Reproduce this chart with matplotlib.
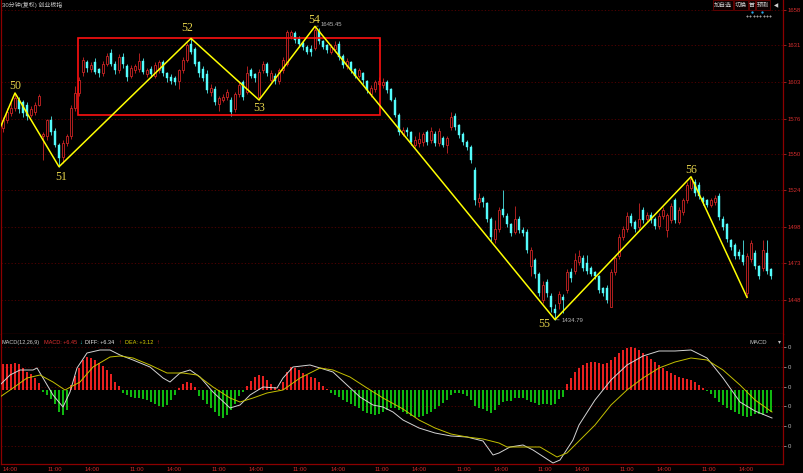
import numpy as np
import matplotlib
matplotlib.use("Agg")
import matplotlib.pyplot as plt
from matplotlib.patches import Rectangle
from matplotlib.ticker import NullLocator, NullFormatter

plt.rcParams['font.family'] = ['Liberation Sans', 'Noto Sans CJK SC', 'DejaVu Sans']

# 30-minute candles (one per bar, left to right)
OPEN = [1569, 1575, 1580, 1584, 1590, 1588, 1586, 1579, 1581, 1586,
        1563, 1563, 1575, 1567, 1557, 1548, 1558, 1563, 1584, 1595,
        1611, 1618, 1613, 1618, 1613, 1610, 1617, 1625, 1617, 1612,
        1622, 1615, 1608, 1612, 1613, 1619, 1609, 1613, 1608, 1612,
        1618, 1610, 1607, 1606, 1604, 1612, 1620, 1632, 1628, 1618,
        1613, 1609, 1596, 1598, 1587, 1590, 1592, 1590, 1583, 1594,
        1603, 1596, 1612, 1609, 1592, 1612, 1617, 1605, 1608, 1604,
        1612, 1617, 1638, 1640, 1636, 1633, 1630, 1628, 1629, 1642,
        1634, 1631, 1626, 1628, 1632, 1623, 1615, 1618, 1613, 1608,
        1610, 1604, 1594, 1598, 1602, 1601, 1603, 1598, 1590, 1579,
        1565, 1568, 1566, 1557, 1558, 1559, 1566, 1560, 1565, 1558,
        1562, 1557, 1570, 1578, 1571, 1565, 1559, 1555, 1539, 1516,
        1519, 1515, 1504, 1490, 1497, 1511, 1506, 1500, 1495, 1504,
        1496, 1495, 1471, 1475, 1466, 1448, 1460, 1451, 1442, 1446,
        1450, 1455, 1467, 1468, 1474, 1477, 1473, 1470, 1467, 1464,
        1456, 1456, 1443, 1467, 1478, 1491, 1497, 1506, 1502, 1498,
        1510, 1504, 1507, 1504, 1499, 1506, 1496, 1503, 1517, 1502,
        1509, 1517, 1526, 1530, 1528, 1519, 1517, 1514, 1516, 1520,
        1504, 1500, 1489, 1486, 1481, 1479, 1453, 1476, 1480, 1471,
        1470, 1480, 1469]
HIGH = [1577, 1584, 1588, 1595, 1592, 1590, 1588, 1585, 1588, 1594,
        1566, 1576, 1578, 1569, 1558, 1560, 1565, 1586, 1600, 1607,
        1622, 1620, 1618, 1621, 1614, 1619, 1625, 1628, 1619, 1624,
        1625, 1617, 1616, 1617, 1625, 1621, 1614, 1615, 1618, 1620,
        1620, 1611, 1609, 1608, 1613, 1622, 1633, 1636.2, 1630, 1619,
        1615, 1612, 1602, 1600, 1593, 1594, 1598, 1592, 1596, 1604,
        1605, 1615, 1614, 1610, 1613, 1619, 1618, 1612, 1610, 1614,
        1622, 1643, 1643, 1642, 1638, 1634, 1631, 1631, 1645.45, 1644,
        1635, 1632, 1632, 1634, 1634, 1624, 1621, 1619, 1614, 1614,
        1611, 1605, 1601, 1605, 1607, 1606, 1605, 1599, 1592, 1580,
        1570, 1570, 1567, 1563, 1566, 1566, 1568, 1570, 1567, 1569,
        1563, 1563, 1581, 1580, 1572, 1566, 1560, 1557, 1541, 1522,
        1520, 1516, 1505, 1503, 1512, 1524, 1508, 1501, 1513, 1506,
        1498, 1497, 1484, 1477, 1467, 1461, 1462, 1453, 1445, 1454,
        1452, 1469, 1470, 1480, 1482, 1479, 1479, 1471, 1468, 1465,
        1457, 1458, 1469, 1478, 1493, 1499, 1509, 1508, 1503, 1515,
        1512, 1509, 1509, 1505, 1508, 1512, 1508, 1515, 1519, 1512,
        1519, 1530, 1533.8, 1532, 1530, 1520, 1518, 1519, 1521, 1522,
        1506, 1501, 1490, 1487, 1483, 1489, 1480, 1489, 1482, 1472,
        1489, 1489, 1470]
LOW = [1566, 1573, 1578, 1582, 1580, 1577, 1575, 1577, 1579, 1585,
       1546, 1560, 1564, 1555, 1541, 1544, 1556, 1561, 1582, 1593,
       1608, 1611, 1611, 1609, 1607, 1608, 1615, 1615, 1609, 1610,
       1614, 1604, 1606, 1610, 1611, 1609, 1607, 1607, 1606, 1610,
       1608, 1603, 1602, 1601, 1598, 1610, 1618, 1624, 1615, 1607,
       1604, 1595, 1593, 1586, 1582, 1588, 1590, 1578, 1581, 1592,
       1590, 1594, 1606, 1603, 1589.8, 1610, 1608, 1603, 1602, 1602,
       1610, 1615, 1636, 1633, 1630, 1627, 1624, 1623, 1627, 1632,
       1628, 1625, 1624, 1626, 1620, 1614, 1613, 1610, 1606, 1606,
       1602, 1595, 1592, 1596, 1600, 1599, 1595, 1589, 1577, 1564,
       1563, 1563, 1557, 1555, 1555, 1556, 1557, 1558, 1556, 1556,
       1555, 1551, 1568, 1568, 1562, 1557, 1553, 1544, 1514, 1512,
       1512, 1502, 1488, 1487, 1495, 1505, 1498, 1492, 1493, 1494,
       1492, 1480, 1464, 1463, 1451, 1446, 1450, 1440, 1434.79, 1442,
       1439, 1453, 1460, 1466, 1472, 1468, 1466, 1464, 1462, 1453,
       1451, 1446, 1443, 1465, 1476, 1489, 1495, 1499, 1495, 1496,
       1501, 1502, 1501, 1497, 1497, 1504, 1491, 1501, 1501, 1500,
       1507, 1515, 1524, 1520, 1518, 1514, 1512, 1512, 1514, 1503,
       1496, 1488, 1482, 1476, 1476, 1472, 1449.8, 1474, 1469, 1462,
       1468, 1466, 1462]
CLOSE = [1575, 1581, 1584, 1591, 1583, 1580, 1578, 1583, 1586, 1593,
         1565, 1575, 1566, 1557, 1547, 1558, 1563, 1584, 1595, 1605,
         1620, 1614, 1616, 1611, 1610, 1617, 1623, 1617, 1612, 1622,
         1617, 1607, 1614, 1615, 1619, 1611, 1612, 1609, 1616, 1618,
         1610, 1606, 1604, 1603, 1612, 1620, 1631, 1626, 1617, 1610,
         1606, 1597, 1599, 1588, 1591, 1592, 1596, 1581, 1594, 1601,
         1592, 1610, 1608, 1606, 1611, 1617, 1610, 1610, 1604, 1612,
         1620, 1641, 1641, 1635, 1632, 1630, 1626, 1626, 1643, 1634,
         1630, 1627, 1630, 1631, 1622, 1616, 1619, 1612, 1608, 1612,
         1605, 1597, 1599, 1603, 1604, 1603, 1597, 1590, 1579, 1566,
         1568, 1566, 1559, 1560, 1561, 1565, 1559, 1567, 1558, 1567,
         1557, 1562, 1577, 1570, 1564, 1559, 1555, 1546, 1517, 1519,
         1516, 1504, 1491, 1497, 1510, 1507, 1500, 1494, 1504, 1496,
         1494, 1482, 1482, 1466, 1453, 1458, 1453, 1443, 1439, 1452,
         1448, 1467, 1463, 1475, 1478, 1470, 1468, 1466, 1464, 1455,
         1453, 1448, 1467, 1477, 1491, 1497, 1506, 1501, 1497, 1504,
         1503, 1507, 1503, 1499, 1506, 1510, 1507, 1513, 1503, 1510,
         1517, 1528, 1532, 1522, 1520, 1516, 1514, 1517, 1519, 1505,
         1498, 1490, 1484, 1478, 1478, 1474, 1478, 1487, 1471, 1464,
         1482, 1468, 1464]

# wave-count zigzag (bar index, price); first point is where the line enters
ZZ_X = [-0.75, 3, 14, 47, 64, 78, 138, 172, 186]
ZZ_P = [1569, 1595, 1541, 1636.2, 1589.8, 1645.45, 1434.79, 1533.8, 1449.8]
ZZ_LABELS = ["50", "51", "52", "53", "54", "55", "56"]

# consolidation box
BOX_X = [18.75, 94.25]
BOX_P = [1578.7, 1636.5]

PRICE_TICKS = [1448, 1473, 1498, 1524, 1550, 1576, 1603, 1631, 1658]

# MACD histogram, one value per bar
HIST = [26, 26, 26, 27, 26, 22, 18, 16, 12, 7,
        -2, -5, -9, -14, -22, -25, -20,
        5, 14, 22, 30, 33, 32, 30, 27, 24, 20, 16, 8, 4,
        -3, -5, -7, -8, -8, -9, -10, -12, -14, -16, -17, -15, -10, -5,
        2, 6, 8, 7, 3,
        -6, -10, -14, -18, -22, -26, -28, -25, -20, -14, -6, -2,
        4, 9, 13, 15, 14, 10, 6, 3, 1,
        8, 18, 23, 22, 20, 17, 15, 13, 12, 8, 4, 1,
        -3, -5, -7, -10, -12, -14, -16, -18, -21, -23,
        -24, -25, -24, -22, -20, -18, -18, -20,
        -22, -24, -26, -27, -27, -26, -24, -22, -19, -16,
        -13, -10, -5, -3, -3, -4, -6, -10, -16, -18,
        -19, -21, -23, -20, -15, -12, -11, -11, -8, -8,
        -8, -10, -12, -13, -15, -14, -14, -15, -14, -9, -7,
        6, 12, 18, 22, 25, 27, 28, 28, 27, 26,
        27, 30, 33, 37, 40, 42, 43, 42, 40, 37,
        34, 31, 28, 25, 22, 19, 17, 15, 13, 12,
        11, 10, 8, 5, 2, -1, -4, -8, -12, -15,
        -18, -20, -22, -24, -26, -27, -26, -24, -24, -25,
        -23, -22]

DIFF_X = [-0.75, 1.75, 4.25, 7.5, 8.5, 10, 12.5, 15, 16.75, 18.5,
          21, 24.25, 26.75, 29.25, 32.5, 36.75, 40, 41.75, 44.25, 46.75,
          49.25, 52.5, 56.75, 59.25, 61.75, 65, 68.5, 70, 72.5, 76.75,
          79.25, 82.5, 86, 89.25, 92.5, 95, 97.5, 100, 104, 108,
          112, 116, 120, 122.5, 124, 126.75, 130, 132.5, 137.5, 139.25,
          142.5, 144, 148, 152, 156, 160, 164, 168, 172, 176,
          180, 184.25, 188, 192.25]
DIFF = [5, 15, 20, 20, 22, 12, -5, -17, -2, 22,
        37, 40, 40, 35, 30, 23, 12, 8, 17, 20,
        13, -2, -18, -15, -5, 3, 2, 12, 23, 25,
        22, 18, 5, -7, -15, -17, -22, -30, -38, -43,
        -46, -47, -51, -65, -63, -57, -55, -60, -73, -70,
        -50, -35, -10, 10, 25, 34, 39, 39, 40, 32,
        12, -12, -21, -28]
DEA_X = [-0.75, 2.5, 6, 9.25, 12.5, 15.5, 19.25, 22.5, 26.75, 29.25,
         32.5, 36.75, 41, 45, 48.5, 52.5, 56.75, 59.25, 62.5, 66,
         70, 74.25, 79.25, 82.5, 86.75, 91, 95, 100, 104, 108,
         112, 116, 120, 124, 126, 134.25, 138.5, 141, 144.25, 148,
         152, 156, 160, 164, 168, 172, 176, 180, 184.25, 188,
         192.25]
DEA = [-7, 2, 12, 15, 8, 0, 8, 23, 33, 34,
       32, 25, 17, 17, 15, 3, -8, -12, -8, -3,
       0, 12, 22, 20, 13, 2, -8, -19, -30, -38,
       -44, -47, -49, -53, -57, -57, -67, -63, -50, -35,
       -15, 0, 12, 22, 28, 32, 30, 20, 5, -10,
       -22]
MACD_TICKS = [43, 23, 3, -16, -36, -56]

TIME_POS = [1.75, 13, 22.4, 33.4, 42.8, 54, 63.25, 74.25, 83.7, 94.7,
            104.1, 115.1, 124.5, 135.5, 144.9, 155.9, 165.3, 176.5, 185.9]
TIME_LBL = ["14:00", "11:00"] * 9 + ["14:00"]

# colours
UP = "#e02828"
DOWN = "#54fcfc"
AXIS_RED = "#8c0000"
GRID_RED = "#5a0000"
LABEL_RED = "#d02c2c"
ZZ_YELLOW = "#ffff00"
NUM_YELLOW = "#e4d24a"

W, H = 804, 473
fig = plt.figure(figsize=(W / 100, H / 100), dpi=100, facecolor="black")


def box(x0, y0, x1, y1):
    return [x0 / W, 1 - y1 / H, (x1 - x0) / W, (y1 - y0) / H]


ax = fig.add_axes(box(0.5, 0, 783, 334))
mx = fig.add_axes(box(0.5, 334, 783, 464))
XLIM = (-0.625, 195)

for a in (ax, mx):
    a.set_facecolor("black")
    for s in a.spines.values():
        s.set_color(AXIS_RED)
        s.set_linewidth(0.9)
    a.spines["top"].set_visible(False)
    a.set_xlim(*XLIM)

# ---- price panel ----
x = np.arange(len(CLOSE))
bw = 0.62
for i in x:
    o, h, l, c = OPEN[i], HIGH[i], LOW[i], CLOSE[i]
    if c >= o:
        ax.vlines(i, c, h, color=UP, lw=0.55, zorder=2)
        ax.vlines(i, l, o, color=UP, lw=0.55, zorder=2)
        ax.add_patch(Rectangle((i - bw / 2, o), bw, max(c - o, 0.3),
                               fc="black", ec=UP, lw=0.55, zorder=3))
    else:
        ax.vlines(i, l, h, color=DOWN, lw=0.55, zorder=2)
        ax.add_patch(Rectangle((i - bw / 2, c), bw, o - c,
                               fc=DOWN, ec=DOWN, lw=0.3, zorder=3))

ax.add_patch(Rectangle((BOX_X[0], BOX_P[0]), BOX_X[1] - BOX_X[0], BOX_P[1] - BOX_P[0],
                       fill=False, ec="#ff1010", lw=1.2, zorder=4))
ax.plot(ZZ_X, ZZ_P, color=ZZ_YELLOW, lw=1.1, zorder=5)

label_off = [(0, 7), (2, -10), (-4, 10), (0, -8), (-1, 6), (-11, -4), (0, 7)]
for xi, p, lab, off in zip(ZZ_X[1:], ZZ_P[1:], ZZ_LABELS, label_off):
    ax.annotate(lab, (xi, p), xytext=off, textcoords="offset pixels",
                ha="center", va="center", color=NUM_YELLOW, fontsize=8.5,
                family="Liberation Serif", zorder=6)

ax.annotate("1645.45", (78, 1645.45), xytext=(6, 1.5), textcoords="offset pixels",
            ha="left", va="center", color="#b4b4b4", fontsize=4.3,
            arrowprops=dict(arrowstyle="-", color="#8a8a8a", lw=0.5, shrinkA=0, shrinkB=1))
ax.annotate("1434.79", (138, 1434.79), xytext=(7, -1), textcoords="offset pixels",
            ha="left", va="center", color="#b4b4b4", fontsize=4.3,
            arrowprops=dict(arrowstyle="-", color="#8a8a8a", lw=0.5, shrinkA=0, shrinkB=1))

ax.set_yscale("log")
ax.set_ylim(1425.2, 1665.8)
ax.set_yticks(PRICE_TICKS, [str(t) for t in PRICE_TICKS])
ax.yaxis.set_minor_locator(NullLocator())
ax.yaxis.set_minor_formatter(NullFormatter())
ax.yaxis.tick_right()
ax.tick_params(axis="y", colors=LABEL_RED, labelsize=4.3, length=2, width=0.5, pad=1.5)
ax.tick_params(axis="x", bottom=False, labelbottom=False)
ax.grid(axis="y", color=GRID_RED, ls=(0, (1.5, 2.5)), lw=0.6, zorder=0)

# ---- MACD panel ----
mx.set_ylim(-74, 56)
hist = np.array(HIST)
mx.bar(x, hist, width=0.3, color=np.where(hist >= 0, "#e82020", "#10b810"),
       linewidth=0, zorder=2)
mx.plot(DIFF_X, DIFF, color="#d4d4d4", lw=0.7, zorder=3)
mx.plot(DEA_X, DEA, color="#c4c000", lw=0.7, zorder=3)
mx.set_yticks(MACD_TICKS, ["0"] * len(MACD_TICKS))
mx.yaxis.tick_right()
mx.tick_params(axis="y", colors="#b8b8b8", labelsize=4.3, length=2, width=0.5, pad=1.5)
mx.set_xticks(TIME_POS, TIME_LBL)
mx.tick_params(axis="x", colors=LABEL_RED, labelsize=4.3, length=0, pad=1.8)
mx.grid(axis="y", color=GRID_RED, ls=(0, (1.5, 2.5)), lw=0.6, zorder=0)

# ---- header texts and widgets (pixel overlay) ----
ov = fig.add_axes([0, 0, 1, 1])
ov.set_xlim(0, W)
ov.set_ylim(H, 0)
ov.axis("off")
ov.patch.set_alpha(0)

ov.text(2, 5, "30分钟(复权) 创业板指", color="#c4c4c4", fontsize=4.3, va="center")

for lab, x0, x1 in [("加自选", 713, 733), ("切换", 734, 748), ("首", 749, 755), ("预测", 756, 770)]:
    ov.add_patch(Rectangle((x0, 0.5), x1 - x0, 9.5, fc="#0c0000", ec="#6a0000", lw=0.6))
    ov.text((x0 + x1) / 2, 5.3, lab, color="#d0d0d0", fontsize=4.3, ha="center", va="center")
ov.text(776, 5.3, "◀", color="#d0d0d0", fontsize=4, ha="center", va="center", family="DejaVu Sans")
ov.plot([751.7, 761.7], [12.3, 12.3], "o", ms=1.7, color="#2aa8e8", mec="none")
ov.plot([747, 750.3, 753.6, 757, 760.3, 763.6, 767, 770.3], [16] * 8, "D",
        ms=1.3, color="#9a9a9a", mec="none")

for txt, xp, col in [("MACD(12,26,9)", 1, "#c8c8c8"), ("MACD: +6.45", 44, "#e03030"),
                     ("↓", 79.5, "#30e0e0"), ("DIFF: +6.34", 85, "#e8e8e8"),
                     ("↑", 118, "#e03030"), ("DEA: +3.12", 125, "#d8d000"),
                     ("↑", 156, "#e03030")]:
    ov.text(xp, 342.5, txt, color=col, fontsize=4.0, va="center")

ov.text(758, 342, "MACD", color="#c0c0c0", fontsize=4.3, ha="center", va="center")
ov.text(779, 342, "▾", color="#c0c0c0", fontsize=4.3, ha="center", va="center", family="DejaVu Sans")

fig.savefig("out.png", dpi=100, facecolor="black")
